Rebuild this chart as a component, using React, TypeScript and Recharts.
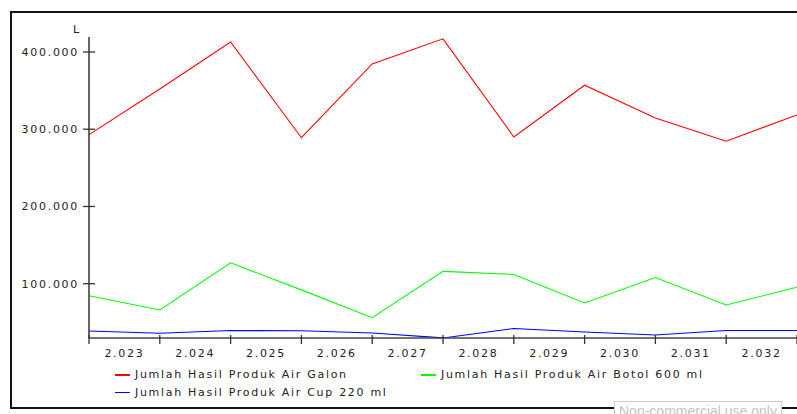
import { LineChart, Line, XAxis, YAxis, Legend, Label } from "recharts";

const years = ["2.023", "2.024", "2.025", "2.026", "2.027", "2.028", "2.029", "2.030", "2.031", "2.032"];
const galon = [293000, 352000, 413000, 289000, 384500, 417000, 290000, 357000, 314500, 284500, 318500];
const botol = [84500, 66000, 127000, 92000, 56000, 116000, 112000, 75000, 108000, 72500, 95500];
const cup = [38800, 35800, 39400, 39000, 36200, 29800, 42000, 37500, 33600, 39400, 39400];
const yTicks = [100000, 200000, 300000, 400000];

const series = [
  { key: "galon", name: "Jumlah Hasil Produk Air Galon", color: "#ff0000" },
  { key: "botol", name: "Jumlah Hasil Produk Air Botol 600 ml", color: "#00ff00" },
  { key: "cup", name: "Jumlah Hasil Produk Air Cup 220 ml", color: "#0000ff" },
];

const data = galon.map((g, i) => ({ idx: i, galon: g, botol: botol[i], cup: cup[i] }));

// integer ticks carry the tick marks, half ticks carry the year labels
const xTicks = years.flatMap((_, i) => [i, i + 0.5]).concat(years.length);

const FONT = "'DejaVu Sans', Verdana, sans-serif";
const TEXT = "#222";

function fmt(v: number) {
  return String(v).replace(/\B(?=(\d{3})+(?!\d))/g, ".");
}

function XTick({ x, y, payload }: any) {
  const v = payload.value;
  if (Number.isInteger(v)) {
    return <line x1={x} x2={x} y1={y - 3} y2={y + 6} stroke="#333" strokeWidth={1.3} />;
  }
  return (
    <text x={x} y={y + 19} textAnchor="middle" fontSize={11} fontFamily={FONT} fill={TEXT} letterSpacing={1.7}>
      {years[Math.floor(v)]}
    </text>
  );
}

function YTick({ x, y, payload }: any) {
  return (
    <g>
      <line x1={x - 6} x2={x + 6} y1={y} y2={y} stroke="#333" strokeWidth={1.3} />
      <text x={x - 10} y={y + 4} textAnchor="end" fontSize={11} fontFamily={FONT} fill={TEXT} letterSpacing={1.7}>
        {fmt(payload.value)}
      </text>
    </g>
  );
}

function LegendBox() {
  return (
    <div style={{ display: "flex", flexWrap: "wrap", width: 620, fontFamily: FONT, fontSize: 11, letterSpacing: 1.7, color: TEXT }}>
      {series.map((s) => (
        <div key={s.key} style={{ width: 306, height: 17.5, display: "flex", alignItems: "center" }}>
          <span style={{ display: "inline-block", width: 15, height: 1.5, background: s.color, marginRight: 5 }} />
          <span>{s.name}</span>
        </div>
      ))}
    </div>
  );
}

export default function App() {
  return (
    <div style={{ position: "absolute", left: 0, top: 0, width: 797, height: 414, overflow: "hidden", background: "#fff" }}>
      <div
        style={{
          position: "absolute",
          left: 10,
          top: 11,
          width: 820,
          height: 394,
          borderLeft: "2px solid #111",
          borderTop: "2px solid #111",
          borderBottom: "2px solid #111",
        }}
      />
      <div style={{ position: "absolute", left: 0, top: 0 }}>
        <LineChart width={797} height={414} data={data} margin={{ top: 37, right: 0, bottom: 46, left: 0 }}>
          <XAxis
            dataKey="idx"
            type="number"
            domain={[0, years.length]}
            ticks={xTicks}
            interval={0}
            height={30}
            tick={<XTick />}
            tickLine={false}
            tickSize={0}
            tickMargin={0}
            axisLine={{ stroke: "#444", strokeWidth: 1.5 }}
          />
          <YAxis
            type="number"
            domain={[29700, 419400]}
            ticks={yTicks}
            width={89}
            tick={<YTick />}
            tickLine={false}
            tickSize={0}
            tickMargin={0}
            axisLine={{ stroke: "#333", strokeWidth: 1.5 }}
          >
            <Label
              content={({ viewBox }: any) => (
                <text x={viewBox.x + viewBox.width - 16} y={viewBox.y - 4.5} fontSize={11} fontFamily={FONT} fill={TEXT}>
                  L
                </text>
              )}
            />
          </YAxis>
          {series.map((s) => (
            <Line
              key={s.key}
              type="linear"
              dataKey={s.key}
              name={s.name}
              stroke={s.color}
              strokeWidth={1.1}
              dot={false}
              isAnimationActive={false}
            />
          ))}
          <Legend
            layout="vertical"
            align="center"
            verticalAlign="middle"
            content={<LegendBox />}
            wrapperStyle={{ left: 115, top: 366, width: 620 }}
          />
        </LineChart>
      </div>
      <div
        style={{
          position: "absolute",
          left: 614,
          top: 401,
          padding: "1px 4px",
          border: "1px solid #ccc",
          background: "#fff",
          color: "#c4c4c4",
          fontFamily: "'Liberation Sans', Arial, sans-serif",
          fontSize: 14,
          whiteSpace: "nowrap",
        }}
      >
        Non-commercial use only
      </div>
    </div>
  );
}
